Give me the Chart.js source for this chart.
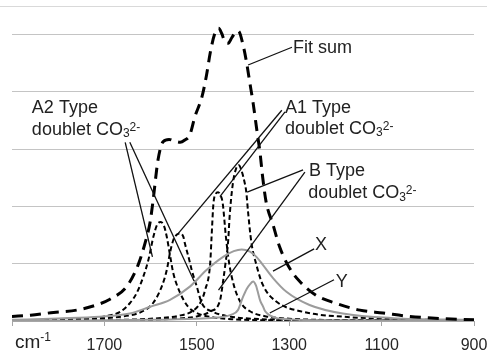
<!DOCTYPE html>
<html>
<head>
<meta charset="utf-8">
<script src="https://cdn.jsdelivr.net/npm/chart.js@4.4.1/dist/chart.umd.min.js"></script>
<style>
  html, body { margin: 0; padding: 0; background: #fff; }
  #wrap { position: relative; width: 487px; height: 350px; overflow: hidden; }
  #topline { position: absolute; left: 0; top: 6px; width: 487px; border-top: 1px solid #d9d9d9; }
</style>
</head>
<body>
<div id="wrap">
  <canvas id="c" width="487" height="350"></canvas>
  <div id="topline"></div>
</div>
<script>
const FONT = "'Liberation Sans', Arial, sans-serif";

// wavenumber axis (cm-1), values in arbitrary intensity units
const xTicks = [1900, 1700, 1500, 1300, 1100, 900];

const fitWn = [1900,1860,1810,1760,1717,1688,1652,1627,1612,1601,1595,1584,1573,1560,1548,1536,1526,1515,1504,1489,1479,1471,1461,1453,1446,1439,1432,1424,1417,1410,1399,1392,1385,1378,1370,1363,1358,1350,1335,1321,1299,1277,1242,1199,1147,1097,1039,967,900];
const fitSum = [0.08,0.10,0.15,0.19,0.28,0.38,0.60,0.98,1.36,1.73,2.08,2.81,3.13,3.17,3.14,3.12,3.16,3.25,3.57,3.91,4.29,4.68,5.02,5.11,5.02,4.87,4.85,4.95,5.03,5.06,4.79,4.50,4.15,3.80,3.33,2.93,2.55,2.08,1.68,1.30,0.92,0.69,0.45,0.31,0.19,0.14,0.08,0.04,0.02];

// A2 type peak ~1578
const p1Wn = [1900,1800,1750,1700,1666,1645,1630,1616,1605,1594,1586,1578,1571,1565,1558,1551,1536,1519,1500,1470,1420,1300,900];
const p1 = [0.01,0.025,0.04,0.08,0.16,0.31,0.49,0.77,1.06,1.47,1.68,1.73,1.66,1.47,1.15,0.84,0.49,0.25,0.14,0.07,0.03,0.01,0];
// peak ~1536
const p2Wn = [1900,1800,1700,1660,1620,1595,1576,1565,1558,1551,1543,1536,1529,1526,1518,1511,1500,1489,1465,1430,1400,1300,1100,900];
const p2 = [0.01,0.02,0.05,0.08,0.16,0.31,0.60,0.89,1.19,1.41,1.51,1.53,1.47,1.36,1.12,0.89,0.60,0.31,0.16,0.08,0.05,0.02,0.01,0];
// peak ~1454
const p3Wn = [1900,1700,1600,1540,1510,1493,1482,1471,1468,1464,1459,1454,1449,1444,1437,1430,1419,1404,1385,1350,1300,1200,900];
const p3 = [0,0.015,0.04,0.09,0.17,0.31,0.54,1.01,1.47,2.05,2.22,2.25,2.2,2.06,1.47,1.01,0.60,0.31,0.17,0.08,0.04,0.015,0];
// peak ~1409
const p4Wn = [1900,1700,1550,1500,1470,1450,1443,1438,1432,1429,1422,1415,1409,1403,1396,1393,1389,1382,1371,1357,1328,1270,1184,1050,900];
const p4 = [0,0.01,0.04,0.08,0.17,0.35,0.7,1.0,1.41,1.82,2.40,2.66,2.72,2.62,2.40,2.26,1.90,1.38,0.98,0.63,0.34,0.16,0.075,0.03,0.01];

// X (broad) and Y (narrow) components
const xWn = [1900,1800,1710,1645,1601,1558,1515,1479,1443,1420,1403,1385,1371,1357,1335,1306,1256,1184,1075,900];
const xVals = [0.02,0.045,0.075,0.13,0.25,0.37,0.60,0.89,1.12,1.22,1.25,1.21,1.12,0.98,0.75,0.51,0.28,0.13,0.05,0.02];
const yWn = [1900,1600,1500,1454,1425,1411,1400,1392,1385,1378,1372,1368,1363,1357,1352,1342,1313,1200,900];
const yVals = [0,0.02,0.04,0.06,0.11,0.19,0.42,0.56,0.64,0.69,0.62,0.51,0.36,0.26,0.17,0.10,0.035,0.01,0];

// callout leaders, [wn1, v1, wn2, v2]
const leaders = [
  [1294, 4.78, 1389, 4.47],
  [1655, 3.12, 1596, 1.12],
  [1645, 3.12, 1506, 0.70],
  [1316, 3.68, 1540, 1.53],
  [1309, 3.65, 1450, 2.17],
  [1270, 2.64, 1391, 2.25],
  [1266, 2.60, 1453, 0.54],
  [1246, 1.26, 1335, 0.87],
  [1203, 0.72, 1342, 0.14]
];

const notes = [
  { text: 'Fit sum', at: [1292, 4.68] },
  { text: 'A2 Type', at: [1857, 3.63] },
  { text: 'doublet CO', at: [1857, 3.25], chem: true },
  { text: 'A1 Type', at: [1309, 3.64] },
  { text: 'doublet CO', at: [1309, 3.27], chem: true },
  { text: 'B Type', at: [1257, 2.53] },
  { text: 'doublet CO', at: [1259, 2.14], chem: true },
  { text: 'X', at: [1244, 1.24] },
  { text: 'Y', at: [1199, 0.60] }
];

const zip = (xs, ys) => xs.map((v, i) => ({ x: v, y: ys[i] }));

function peak(xs, ys) {
  return { data: zip(xs, ys), borderColor: '#000', borderWidth: 2, borderDash: [5, 3] };
}

const calloutPlugin = {
  id: 'callouts',
  afterDatasetsDraw(chart) {
    const { ctx, scales } = chart;
    const sx = scales.x, sy = scales.y;
    ctx.save();
    ctx.strokeStyle = '#111';
    ctx.lineWidth = 1.3;
    leaders.forEach(l => {
      ctx.beginPath();
      ctx.moveTo(sx.getPixelForValue(l[0]), sy.getPixelForValue(l[1]));
      ctx.lineTo(sx.getPixelForValue(l[2]), sy.getPixelForValue(l[3]));
      ctx.stroke();
    });
    ctx.fillStyle = '#222';
    ctx.textBaseline = 'alphabetic';
    ctx.textAlign = 'left';
    notes.forEach(n => {
      let px = sx.getPixelForValue(n.at[0]);
      const py = sy.getPixelForValue(n.at[1]);
      ctx.font = '18px ' + FONT;
      ctx.fillText(n.text, px, py);
      if (n.chem) {
        px += ctx.measureText(n.text).width;
        ctx.font = '12px ' + FONT;
        ctx.fillText('3', px, py + 2.5);
        px += ctx.measureText('3').width;
        ctx.fillText('2-', px, py - 4);
      }
    });
    // unit label in place of the first tick
    const ux = sx.getPixelForValue(1900) + 3;
    const uy = sx.top + 27;
    ctx.font = '19px ' + FONT;
    ctx.fillText('cm', ux, uy);
    const w = ctx.measureText('cm').width;
    ctx.font = '12px ' + FONT;
    ctx.fillText('-1', ux + w, uy - 7);
    ctx.restore();
  }
};

Chart.defaults.font.family = FONT;

new Chart(document.getElementById('c'), {
  type: 'line',
  data: {
    datasets: [
      { data: zip(fitWn, fitSum), borderColor: '#000', borderWidth: 3, borderDash: [11, 7] },
      { data: zip(xWn, xVals), borderColor: '#9c9c9c', borderWidth: 2 },
      { data: zip(yWn, yVals), borderColor: '#9c9c9c', borderWidth: 2 },
      peak(p1Wn, p1),
      peak(p2Wn, p2),
      peak(p3Wn, p3),
      peak(p4Wn, p4)
    ]
  },
  options: {
    responsive: false,
    animation: false,
    events: [],
    layout: { padding: { top: 6, left: 12, right: 13, bottom: 0 } },
    elements: {
      point: { radius: 0 },
      line: { cubicInterpolationMode: 'monotone', fill: false }
    },
    plugins: { legend: { display: false }, tooltip: { enabled: false } },
    scales: {
      x: {
        type: 'linear',
        reverse: true,
        min: 900,
        max: 1900,
        afterBuildTicks: s => { s.ticks = xTicks.map(v => ({ value: v })); },
        afterFit: s => { s.height = 29; s.paddingLeft = 0; s.paddingRight = 0; },
        ticks: {
          padding: 10,
          maxRotation: 0,
          color: '#262626',
          font: { size: 16 },
          callback: v => (v === 1900 ? '' : String(v))
        },
        grid: { drawOnChartArea: false, color: '#a6a6a6', tickLength: 5 },
        border: { color: '#a6a6a6', width: 1 }
      },
      y: {
        min: 0,
        max: 5.5,
        afterBuildTicks: s => { s.ticks = s.ticks.filter(t => Number.isInteger(t.value)); },
        afterFit: s => { s.width = 0; },
        ticks: { display: false, stepSize: 1 },
        grid: {
          drawTicks: false,
          color: c => (c.tick && c.tick.value === 0 ? 'rgba(0,0,0,0)' : '#c4c4c4')
        },
        border: { display: false }
      }
    }
  },
  plugins: [calloutPlugin]
});
</script>
</body>
</html>
